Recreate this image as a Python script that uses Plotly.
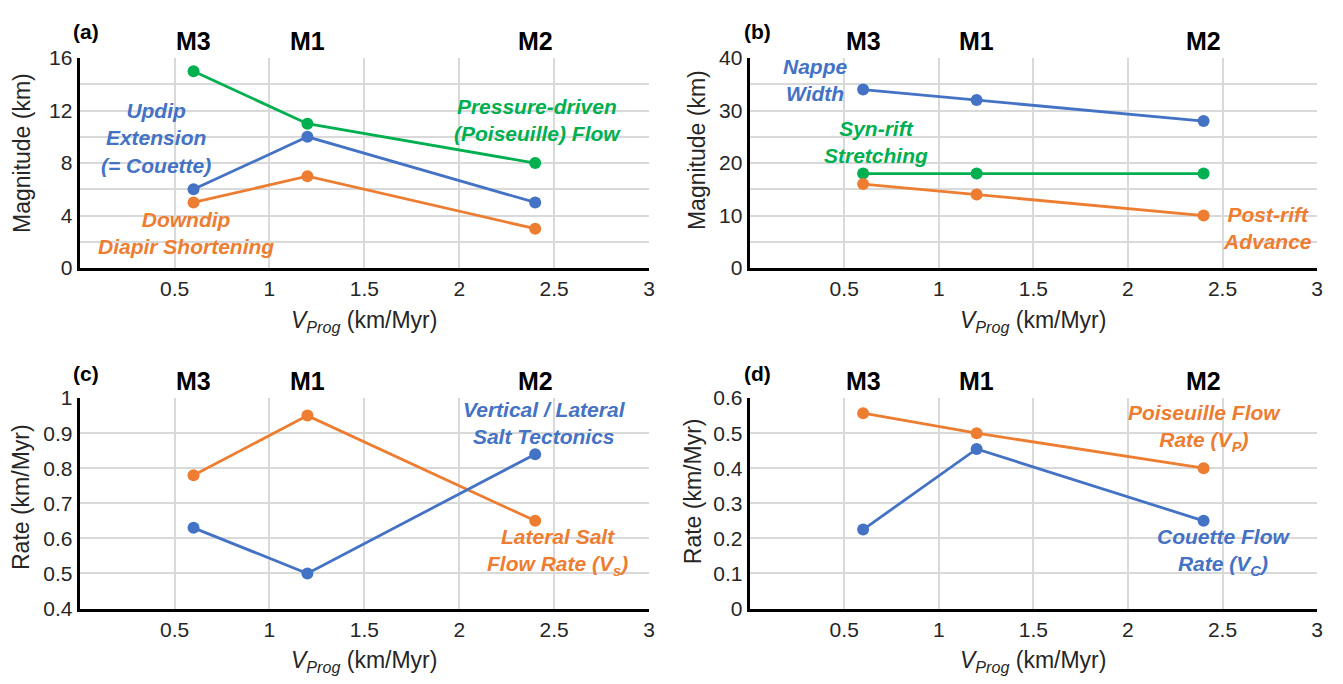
import plotly.graph_objects as go

# ---------------- data ----------------
models = ["M3", "M1", "M2"]
v_prog = [0.6, 1.2, 2.4]

# panel (a)
a_poiseuille = [15, 11, 8]
a_updip = [6, 10, 5]
a_downdip = [5, 7, 3]
# panel (b)
b_nappe = [34, 32, 28]
b_synrift = [18, 18, 18]
b_postrift = [16, 14, 10]
# panel (c)
c_lateral_flow = [0.78, 0.95, 0.65]
c_vert_lat = [0.63, 0.50, 0.84]
# panel (d)
d_poiseuille_rate = [0.557, 0.50, 0.40]
d_couette_rate = [0.225, 0.455, 0.25]

x_tickvals = [0.5, 1, 1.5, 2, 2.5, 3]
x_ticktext = ["0.5", "1", "1.5", "2", "2.5", "3"]

BLUE = "#4472C4"
ORANGE = "#ED7D31"
GREEN = "#00B050"
FONT = "Arial, Liberation Sans, sans-serif"
W, H = 1343, 684

fig = go.Figure()

panels = [
    ("x", "y", [(a_poiseuille, GREEN), (a_updip, BLUE), (a_downdip, ORANGE)]),
    ("x2", "y2", [(b_nappe, BLUE), (b_synrift, GREEN), (b_postrift, ORANGE)]),
    ("x3", "y3", [(c_lateral_flow, ORANGE), (c_vert_lat, BLUE)]),
    ("x4", "y4", [(d_poiseuille_rate, ORANGE), (d_couette_rate, BLUE)]),
]
for xa, ya, series in panels:
    for vals, col in series:
        fig.add_trace(go.Scatter(
            x=v_prog, y=vals, xaxis=xa, yaxis=ya, mode="lines+markers",
            line=dict(color=col, width=2.8),
            marker=dict(color=col, size=12),
            showlegend=False, hoverinfo="skip"))

xdom_l = [80 / W, 652 / W]
xdom_r = [753 / W, 1323 / W]
ydom_t = [1 - 265 / H, 1 - 47.7 / H]
ydom_b = [1 - 617.3 / H, 1 - 399.5 / H]

tickfont = dict(family=FONT, size=21, color="#262626")
titlefont = dict(family=FONT, size=23, color="#262626")


def xaxis(dom, anchor):
    return dict(domain=dom, anchor=anchor, range=[0, 3], tickvals=[0] + x_tickvals,
                ticktext=[""] + x_ticktext, showgrid=True, gridcolor="#d9d9d9",
                gridwidth=1.5, showline=True, linecolor="black", linewidth=3,
                ticks="", tickfont=tickfont, zeroline=False, fixedrange=True)


def yaxis(dom, anchor, rng, step, labels):
    n = round((rng[1] - rng[0]) / step)
    vals = [rng[0] + i * step for i in range(n + 1)]
    return dict(domain=dom, anchor=anchor, range=rng, tickvals=vals, ticktext=labels,
                showgrid=True, gridcolor="#d9d9d9", gridwidth=1.5, showline=True,
                linecolor="black", linewidth=3, ticks="", tickfont=tickfont,
                zeroline=False, fixedrange=True)


fig.update_layout(
    width=W, height=H, margin=dict(l=0, r=0, t=0, b=0),
    paper_bgcolor="white", plot_bgcolor="white",
    xaxis=xaxis(xdom_l, "y"),
    yaxis=yaxis(ydom_t, "x", [0, 16], 2,
                ["0", "", "4", "", "8", "", "12", "", "16"]),
    xaxis2=xaxis(xdom_r, "y2"),
    yaxis2=yaxis(ydom_t, "x2", [0, 40], 5,
                 ["0", "", "10", "", "20", "", "30", "", "40"]),
    xaxis3=xaxis(xdom_l, "y3"),
    yaxis3=yaxis(ydom_b, "x3", [0.4, 1.0], 0.1,
                 ["0.4", "0.5", "0.6", "0.7", "0.8", "0.9", "1"]),
    xaxis4=xaxis(xdom_r, "y4"),
    yaxis4=yaxis(ydom_b, "x4", [0, 0.6], 0.1,
                 ["0", "0.1", "0.2", "0.3", "0.4", "0.5", "0.6"]),
)

ann = []
# model labels above each panel
for xa, ypx in [("x", 30), ("x2", 30), ("x3", 382), ("x4", 382)]:
    for m, xv in zip(models, v_prog):
        ann.append(dict(x=xv, y=1 - ypx / H, xref=xa, yref="paper", text="<b>" + m + "</b>",
                        showarrow=False, yanchor="middle",
                        font=dict(family=FONT, size=25, color="black")))
# panel letters
for lbl, xpx, ypx in [("(a)", 86, 20), ("(b)", 761, 20),
                      ("(c)", 86, 374), ("(d)", 761, 374)]:
    ann.append(dict(x=xpx / W, y=1 - ypx / H, xref="paper", yref="paper",
                    text="<b>" + lbl + "</b>", showarrow=False,
                    xanchor="center", yanchor="middle",
                    font=dict(family=FONT, size=21, color="black")))
# y axis titles
for txt, xpx, ypx in [("Magnitude (km)", 22, 146), ("Magnitude (km)", 700, 143),
                      ("Rate (km/Myr)", 21, 502), ("Rate (km/Myr)", 696, 496)]:
    ann.append(dict(x=xpx / W, y=1 - ypx / H, xref="paper", yref="paper", text=txt,
                    textangle=-90, showarrow=False, xanchor="center", yanchor="middle",
                    font=titlefont))
# x axis titles
xtitle = "<i>V</i><sub><i>Prog</i></sub> (km/Myr)"
for dom, ypx in [(xdom_l, 320), (xdom_r, 320), (xdom_l, 672), (xdom_r, 672)]:
    ann.append(dict(x=(dom[0] + dom[1]) / 2, y=1 - ypx / H, xref="paper", yref="paper",
                    text=xtitle, showarrow=False, xanchor="center", yanchor="middle",
                    font=titlefont))


def lab(text, x, y, xa, ya, col):
    ann.append(dict(x=x, y=y, xref=xa, yref=ya, text="<b><i>" + text + "</i></b>",
                    showarrow=False, align="center",
                    font=dict(family=FONT, size=21, color=col)))


lab("Updip<br>Extension<br>(= Couette)", 0.40, 9.9, "x", "y", BLUE)
lab("Downdip<br>Diapir Shortening", 0.56, 2.65, "x", "y", ORANGE)
lab("Pressure-driven<br>(Poiseuille) Flow", 2.41, 11.3, "x", "y", GREEN)
lab("Nappe<br>Width", 0.35, 35.9, "x2", "y2", BLUE)
lab("Syn-rift<br>Stretching", 0.67, 24.1, "x2", "y2", GREEN)
lab("Post-rift<br>Advance", 2.74, 7.7, "x2", "y2", ORANGE)
lab("Vertical / Lateral<br>Salt Tectonics", 2.45, 0.928, "x3", "y3", BLUE)
lab("Lateral Salt<br>Flow Rate (V<sub>s</sub>)", 2.52, 0.56, "x3", "y3", ORANGE)
lab("Poiseuille Flow<br>Rate (V<sub>P</sub>)", 2.405, 0.515, "x4", "y4", ORANGE)
lab("Couette Flow<br>Rate (V<sub>C</sub>)", 2.505, 0.161, "x4", "y4", BLUE)

fig.update_layout(annotations=ann)
fig.write_html("out.html")
